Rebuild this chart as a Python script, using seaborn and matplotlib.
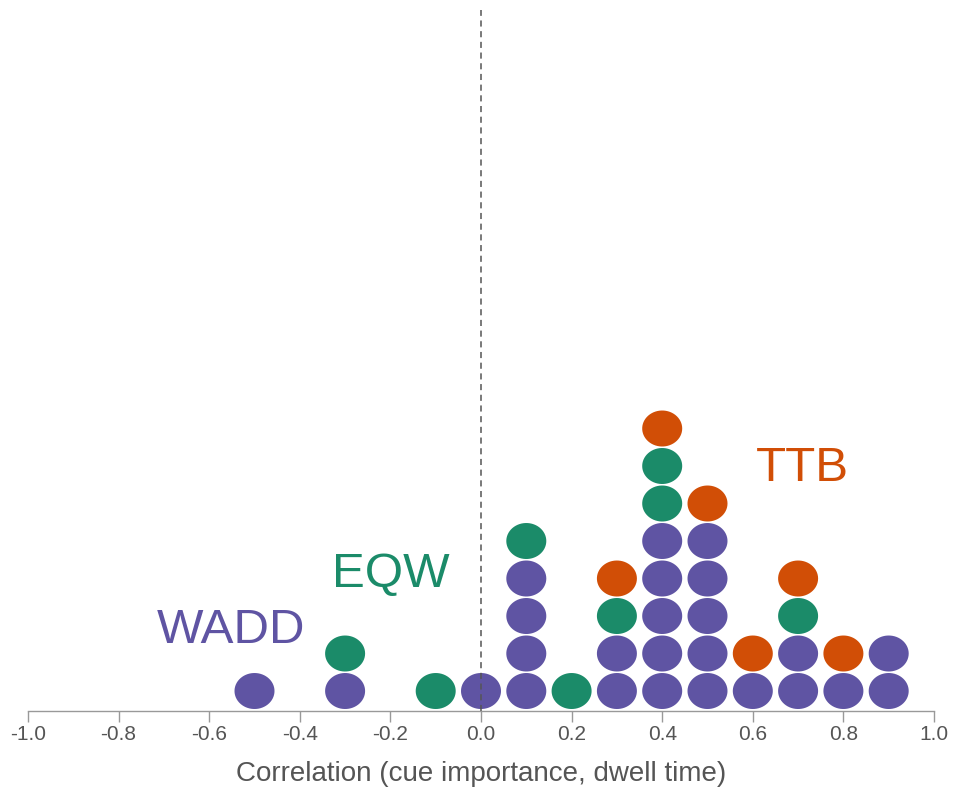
import numpy as np
import pandas as pd
import matplotlib
matplotlib.use("Agg")
import matplotlib.pyplot as plt
from matplotlib.path import Path
import seaborn as sns

# correlation bins and how many participants of each strategy fall in them
corr_bins = [-0.5, -0.3, -0.1, 0.0, 0.1, 0.2, 0.3, 0.4, 0.5, 0.6, 0.7, 0.8, 0.9]
wadd_counts = [1, 1, 0, 1, 4, 0, 2, 5, 5, 1, 2, 1, 2]
eqw_counts = [0, 1, 1, 0, 1, 1, 1, 2, 0, 0, 1, 0, 0]
ttb_counts = [0, 0, 0, 0, 0, 0, 1, 1, 1, 1, 1, 1, 0]

strategies = ["WADD", "EQW", "TTB"]
colors = {"WADD": "#5f54a3", "EQW": "#1b8b69", "TTB": "#d14e06"}
xticks = [-1.0, -0.8, -0.6, -0.4, -0.2, 0.0, 0.2, 0.4, 0.6, 0.8, 1.0]

# stack the dots: WADD at the bottom, then EQW, then TTB
rows = []
for i, x in enumerate(corr_bins):
    level = 0
    for name, counts in zip(strategies, [wadd_counts, eqw_counts, ttb_counts]):
        for _ in range(counts[i]):
            rows.append({"corr": x, "level": level, "strategy": name})
            level += 1
df = pd.DataFrame(rows)

sns.set_theme(style="white")
plt.rcParams["font.family"] = ["Liberation Sans", "DejaVu Sans"]

fig = plt.figure(figsize=(9.54, 7.89), dpi=100)
ax = fig.add_axes([28 / 954, 78 / 789, 906 / 954, 701 / 789])

# slightly wide ellipse marker
t = np.linspace(0, 2 * np.pi, 60)
ell = Path(np.column_stack([np.cos(t), 0.9 * np.sin(t)]), closed=True)

sns.scatterplot(data=df, x="corr", y="level", hue="strategy", palette=colors,
                marker=ell, s=830, linewidth=0, legend=False, ax=ax, zorder=2)

ax.axvline(0, color="#555555", linestyle=(0, (4, 3)), linewidth=1.1, zorder=3)

ax.set_xlim(-1.0, 1.0)
ax.set_ylim(-0.533, 18.16)
ax.set_yticks([])
ax.set_ylabel("")
ax.set_xticks(xticks)
ax.set_xticklabels([f"{v:.1f}" for v in xticks], fontsize=15, color="#555555")
ax.tick_params(axis="x", direction="out", length=8, width=1, color="#999999", pad=2, bottom=True)
ax.set_xlabel("Correlation (cue importance, dwell time)", fontsize=20, color="#555555", labelpad=12)

for side in ["top", "left", "right"]:
    ax.spines[side].set_visible(False)
ax.spines["bottom"].set_color("#999999")
ax.spines["bottom"].set_linewidth(1)

ax.text(-0.552, 1.61, "WADD", color=colors["WADD"], fontsize=35.5, ha="center", va="center")
ax.text(-0.199, 3.1, "EQW", color=colors["EQW"], fontsize=35.5, ha="center", va="center")
ax.text(0.709, 5.93, "TTB", color=colors["TTB"], fontsize=35.5, ha="center", va="center")

fig.savefig("out.png", dpi=100)
